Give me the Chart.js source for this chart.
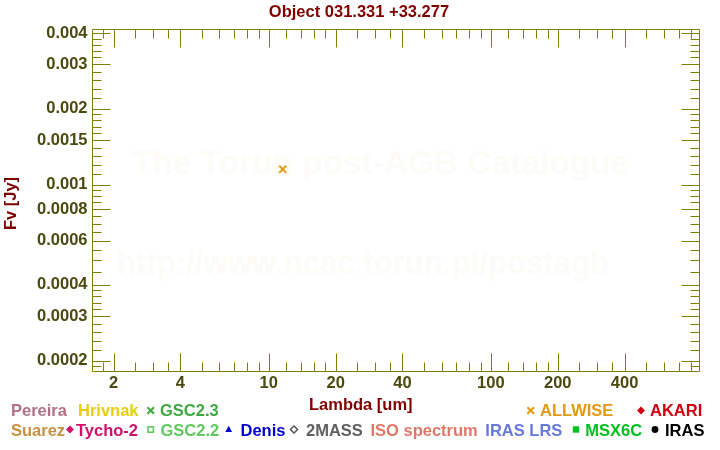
<!DOCTYPE html>
<html><head><meta charset="utf-8">
<script src="https://cdn.jsdelivr.net/npm/chart.js@4/dist/chart.umd.min.js"></script>
<style>html,body{margin:0;padding:0;background:#fff}#wrap{width:720px;height:450px;position:relative}canvas{display:block}</style>
</head><body><div id="wrap"><canvas id="c" width="720" height="450"></canvas></div>
<script>
// ---- data ----
const chartTitle = 'Object 031.331 +33.277';
const xAxisTitle = 'Lambda [um]';
const yAxisTitle = 'Fv [Jy]';
const allwiseWavelength = [11.56];
const allwiseFlux = [0.00115];
const xTickValues = [2, 4, 10, 20, 40, 100, 200, 400];
const xTickLabels = ['2', '4', '10', '20', '40', '100', '200', '400'];
const yTickValues = [0.0002, 0.0003, 0.0004, 0.0006, 0.0008, 0.001, 0.0015, 0.002, 0.003, 0.004];
const yTickLabels = ['0.0002', '0.0003', '0.0004', '0.0006', '0.0008', '0.001', '0.0015', '0.002', '0.003', '0.004'];
const legendRow1Names = ['Pereira', 'Hrivnak', 'GSC2.3', 'ALLWISE', 'AKARI'];
const legendRow2Names = ['Suarez', 'Tycho-2', 'GSC2.2', 'Denis', '2MASS', 'ISO spectrum', 'IRAS LRS', 'MSX6C', 'IRAS'];
const watermarkLines = ['The Torun post-AGB Catalogue', 'http://www.ncac.torun.pl/postagb'];

// ---- styles / layout ----
const FONT = '"Liberation Sans", Arial, sans-serif';
const FS = 16.5;
const AXIS_COLOR = '#808000';
const TICK_LABEL_COLOR = '#4a4a10';
const TITLE_COLOR = '#800000';
const legendRow1Style = [
  {color: '#b07088', textX: 11, marker: null},
  {color: '#e8cc10', textX: 78, marker: null},
  {color: '#40a840', textX: 160, marker: 'cross', mx: 150.7, mcolor: '#40a840'},
  {color: '#e09a10', textX: 540, marker: 'cross', mx: 530.7, mcolor: '#e09a10'},
  {color: '#d00010', textX: 650, marker: 'diamond', mx: 641, mcolor: '#d00010'}
];
const legendRow2Style = [
  {color: '#c89040', textX: 11, marker: null},
  {color: '#d0106a', textX: 76, marker: 'diamond', mx: 70, mcolor: '#d0106a'},
  {color: '#60c860', textX: 160.5, marker: 'squareOpen', mx: 150.7, mcolor: '#60c860'},
  {color: '#0000d0', textX: 240.5, marker: 'triangle', mx: 228.7, mcolor: '#0000d0'},
  {color: '#606060', textX: 306, marker: 'diamondOpen', mx: 294, mcolor: '#505050'},
  {color: '#e07868', textX: 370.5, marker: null},
  {color: '#6878d8', textX: 485.3, marker: null},
  {color: '#00c020', textX: 585.3, marker: 'square', mx: 576, mcolor: '#00c020'},
  {color: '#000000', textX: 665, marker: 'circle', mx: 655, mcolor: '#000000'}
];

function minorTicks(min, max, steps) {
  const out = [];
  for (let e = Math.floor(Math.log10(min)) - 1; e <= Math.ceil(Math.log10(max)); e++) {
    const p = Math.pow(10, e);
    for (const [a, b, s] of steps) {
      for (let m = a; m < b - 1e-9; m += s) {
        const v = +(m * p).toPrecision(6);
        if (v >= min && v <= max) out.push(v);
      }
    }
  }
  return out;
}

function drawMarker(ctx, type, x, y, color) {
  ctx.save();
  ctx.fillStyle = color; ctx.strokeStyle = color;
  ctx.beginPath();
  if (type === 'cross') {
    ctx.lineWidth = 2;
    ctx.moveTo(x - 3.3, y - 3.3); ctx.lineTo(x + 3.3, y + 3.3);
    ctx.moveTo(x + 3.3, y - 3.3); ctx.lineTo(x - 3.3, y + 3.3);
    ctx.stroke();
  } else if (type === 'diamond') {
    ctx.moveTo(x, y - 4); ctx.lineTo(x + 4, y); ctx.lineTo(x, y + 4); ctx.lineTo(x - 4, y); ctx.closePath();
    ctx.fill();
  } else if (type === 'diamondOpen') {
    ctx.lineWidth = 1.4;
    ctx.moveTo(x, y - 3.6); ctx.lineTo(x + 3.6, y); ctx.lineTo(x, y + 3.6); ctx.lineTo(x - 3.6, y); ctx.closePath();
    ctx.stroke();
  } else if (type === 'squareOpen') {
    ctx.lineWidth = 1.6;
    ctx.strokeRect(x - 2.7, y - 2.7, 5.4, 5.4);
  } else if (type === 'square') {
    ctx.fillRect(x - 3.2, y - 3.2, 6.4, 6.4);
  } else if (type === 'triangle') {
    ctx.moveTo(x, y - 3.8); ctx.lineTo(x + 3.4, y + 2.6); ctx.lineTo(x - 3.4, y + 2.6); ctx.closePath();
    ctx.fill();
  } else if (type === 'circle') {
    ctx.arc(x, y, 3.4, 0, Math.PI * 2); ctx.fill();
  }
  ctx.restore();
}

const framePlugin = {
  id: 'frame',
  beforeDatasetsDraw(chart) {
    const ctx = chart.ctx;
    ctx.save();
    ctx.fillStyle = 'rgb(252,251,246)';
    ctx.font = 'bold 33.5px ' + FONT;
    ctx.textAlign = 'left'; ctx.textBaseline = 'alphabetic';
    ctx.fillText(watermarkLines[0], 132, 174, 497);
    ctx.fillText(watermarkLines[1], 117, 274, 492);
    ctx.restore();
  },
  afterDraw(chart) {
    const ctx = chart.ctx;
    const a = chart.chartArea;
    const xs = chart.scales.x, ys = chart.scales.y;
    const L = Math.round(a.left) + 0.5, R = Math.round(a.right) + 0.5;
    const T = Math.round(a.top) + 0.5, B = Math.round(a.bottom) + 0.5;
    ctx.save();
    ctx.strokeStyle = AXIS_COLOR; ctx.lineWidth = 1;
    ctx.beginPath();
    ctx.moveTo(L, T); ctx.lineTo(R, T); ctx.lineTo(R, B); ctx.lineTo(L, B); ctx.closePath();
    const xMinor = minorTicks(xs.min, xs.max, [[1, 2, 0.2], [2, 4, 0.5], [4, 10, 1]]);
    xMinor.forEach(v => {
      const major = xTickValues.some(t => Math.abs(t - v) / t < 1e-6);
      const len = major ? 18 : 9;
      const px = Math.round(xs.getPixelForValue(v)) + 0.5;
      if (px <= L + 1 || px >= R - 1) return;
      ctx.moveTo(px, B); ctx.lineTo(px, B - len);
      ctx.moveTo(px, T); ctx.lineTo(px, T + len);
    });
    const yMinor = minorTicks(ys.min, ys.max, [[1, 2, 0.1], [2, 4, 0.2], [4, 10, 0.5]]);
    yMinor.forEach(v => {
      const major = yTickValues.some(t => Math.abs(t - v) / t < 1e-6);
      const len = major ? 18 : 9;
      const py = Math.round(ys.getPixelForValue(v)) + 0.5;
      if (py <= T + 1 || py >= B - 1) return;
      ctx.moveTo(L, py); ctx.lineTo(L + len, py);
      ctx.moveTo(R, py); ctx.lineTo(R - len, py);
    });
    ctx.stroke();

    ctx.font = 'bold ' + FS + 'px ' + FONT;
    ctx.fillStyle = TITLE_COLOR;
    ctx.textAlign = 'center'; ctx.textBaseline = 'alphabetic';
    ctx.fillText(chartTitle, 359, 17);
    ctx.textAlign = 'left';
    ctx.fillText(xAxisTitle, 309, 410);
    ctx.save();
    ctx.translate(16, 203.5);
    ctx.rotate(-Math.PI / 2);
    ctx.textAlign = 'center';
    ctx.fillText(yAxisTitle, 0, 0);
    ctx.restore();

    const rows = [[legendRow1Names, legendRow1Style, 416, 410.5], [legendRow2Names, legendRow2Style, 436, 429.5]];
    rows.forEach(([names, styles, by, my]) => {
      names.forEach((n, i) => {
        const s = styles[i];
        if (s.marker) drawMarker(ctx, s.marker, s.mx, my, s.mcolor);
        ctx.fillStyle = s.color;
        ctx.textAlign = 'left';
        ctx.fillText(n, s.textX, by);
      });
    });
    ctx.restore();
  }
};

const tickFont = {family: FONT, weight: 'bold', size: FS};
new Chart(document.getElementById('c'), {
  type: 'scatter',
  data: {
    datasets: [{
      label: 'ALLWISE',
      data: allwiseWavelength.map((x, i) => ({x: x, y: allwiseFlux[i]})),
      pointStyle: 'crossRot',
      pointRadius: 5,
      pointBorderWidth: 2,
      borderColor: '#e09a10',
      backgroundColor: '#e09a10'
    }]
  },
  options: {
    responsive: false,
    animation: false,
    devicePixelRatio: 1,
    layout: {padding: {left: 0, right: 21, top: 29, bottom: 0}},
    plugins: {legend: {display: false}, tooltip: {enabled: false}, title: {display: false}},
    scales: {
      x: {
        type: 'logarithmic', position: 'bottom', min: 1.6, max: 865,
        afterBuildTicks: s => { s.ticks = xTickValues.map(v => ({value: v})); },
        afterFit: s => { s.height = 79; },
        grid: {display: false, drawTicks: false},
        border: {display: false},
        ticks: {autoSkip: false, maxRotation: 0, minRotation: 0, padding: 3, color: TICK_LABEL_COLOR, font: tickFont,
          callback: (v, i) => xTickLabels[i]}
      },
      y: {
        type: 'logarithmic', position: 'left', min: 0.000182, max: 0.00415,
        afterBuildTicks: s => { s.ticks = yTickValues.map(v => ({value: v})); },
        afterFit: s => { s.width = 92; },
        grid: {display: false, drawTicks: false},
        border: {display: false},
        ticks: {autoSkip: false, padding: 4.5, color: TICK_LABEL_COLOR, font: tickFont,
          callback: (v, i) => yTickLabels[i]}
      }
    }
  },
  plugins: [framePlugin]
});
</script>
</body></html>
